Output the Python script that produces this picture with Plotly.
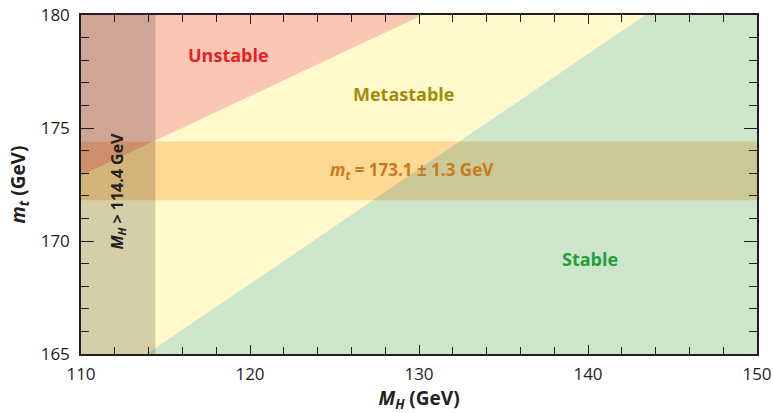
import numpy as np
import plotly.graph_objects as go

# Axis ranges
mh_range = [110, 150]
mt_range = [165, 180]

# Boundary between the stable and metastable regions (M_H, m_t)
stab_mh = [113.9, 143.4]
stab_mt = [165.0, 180.0]

# Boundary between the metastable and unstable regions (M_H, m_t)
meta_mh = [110.0, 130.2]
meta_mt = [172.9, 180.0]

# Top-quark mass measurement
mt_central = 173.1
mt_err = 1.3

# LEP lower bound on the Higgs mass
mh_lep = 114.4

# Region colours, plain and inside the m_t band
col_stable = "#cce5cb"
col_meta = "#fff9cc"
col_unstable = "#f9c7b4"
col_stable_band = "#cbc996"
col_meta_band = "#fdd993"
col_unstable_band = "#f7ac82"
ink = "#231f20"
FONT = "Open Sans"

mt_lo = mt_central - mt_err
mt_hi = mt_central + mt_err


def x_on(line_mh, line_mt, y):
    return float(np.interp(y, line_mt, line_mh))


def poly(xs, ys, color):
    return go.Scatter(x=xs, y=ys, mode="lines", fill="toself", fillcolor=color,
                      line=dict(width=0), hoverinfo="skip", showlegend=False)


fig = go.Figure()

# Stable background over the whole plane
fig.add_trace(poly([mh_range[0], mh_range[1], mh_range[1], mh_range[0]],
                   [mt_range[0], mt_range[0], mt_range[1], mt_range[1]], col_stable))
# Metastable: above the stability line
fig.add_trace(poly([mh_range[0], stab_mh[0], stab_mh[1], mh_range[0]],
                   [mt_range[0], stab_mt[0], stab_mt[1], mt_range[1]], col_meta))
# Unstable: above the metastability line
fig.add_trace(poly([meta_mh[0], meta_mh[1], mh_range[0]],
                   [meta_mt[0], meta_mt[1], mt_range[1]], col_unstable))

# m_t band, tinted per region
fig.add_trace(poly([mh_range[0], mh_range[1], mh_range[1], mh_range[0]],
                   [mt_lo, mt_lo, mt_hi, mt_hi], col_meta_band))
xs_lo = x_on(stab_mh, stab_mt, mt_lo)
xs_hi = x_on(stab_mh, stab_mt, mt_hi)
fig.add_trace(poly([xs_lo, mh_range[1], mh_range[1], xs_hi],
                   [mt_lo, mt_lo, mt_hi, mt_hi], col_stable_band))
xu_hi = x_on(meta_mh, meta_mt, mt_hi)
fig.add_trace(poly([meta_mh[0], xu_hi, mh_range[0]],
                   [meta_mt[0], mt_hi, mt_hi], col_unstable_band))

# Region excluded by LEP
fig.add_trace(poly([mh_range[0], mh_lep, mh_lep, mh_range[0]],
                   [mt_range[0], mt_range[0], mt_range[1], mt_range[1]],
                   "rgba(0,0,0,0.17)"))

labels = [
    dict(x=118.7, y=178.25, text="Unstable", color="#e61e28", size=18, angle=0),
    dict(x=129.1, y=176.5, text="Metastable", color="#a08c0a", size=18, angle=0),
    dict(x=129.6, y=mt_central,
         text="<i>m</i><sub><i>t</i></sub> = %.1f ± %.1f GeV" % (mt_central, mt_err),
         color="#c97a1f", size=17, angle=0),
    dict(x=140.1, y=169.2, text="Stable", color="#22a03c", size=18, angle=0),
    dict(x=112.15, y=172.2, text="<i>M</i><sub><i>H</i></sub> &gt; %.1f GeV" % mh_lep,
         color=ink, size=16, angle=-90),
]
for lb in labels:
    fig.add_annotation(x=lb["x"], y=lb["y"], text=lb["text"], showarrow=False,
                       textangle=lb["angle"],
                       font=dict(family=FONT, size=lb["size"], color=lb["color"],
                                 weight="bold"))

axis_common = dict(showgrid=False, zeroline=False, showline=True, linecolor=ink,
                   linewidth=1.5, mirror="ticks", ticks="inside", tickcolor=ink,
                   tickwidth=1.2, automargin=False,
                   tickfont=dict(family=FONT, size=17, color=ink))

fig.update_xaxes(range=mh_range, dtick=10, ticklen=9, ticklabelstandoff=4,
                 minor=dict(dtick=2, ticks="inside", ticklen=7, tickcolor=ink, tickwidth=1.2),
                 title=dict(text="<i>M</i><sub><i>H</i></sub> (GeV)", standoff=4,
                            font=dict(family=FONT, size=19, color=ink, weight="bold")),
                 **axis_common)
fig.update_yaxes(range=mt_range, dtick=5, ticklen=13, ticklabelstandoff=6,
                 minor=dict(dtick=1, ticks="inside", ticklen=8, tickcolor=ink, tickwidth=1.2),
                 title=dict(text="<i>m</i><sub><i>t</i></sub> (GeV)", standoff=10,
                            font=dict(family=FONT, size=19, color=ink, weight="bold")),
                 **axis_common)

fig.update_layout(width=773, height=413, margin=dict(l=81, r=16, t=15, b=59),
                  paper_bgcolor="white", plot_bgcolor="white", showlegend=False)

fig.write_html("out.html")
